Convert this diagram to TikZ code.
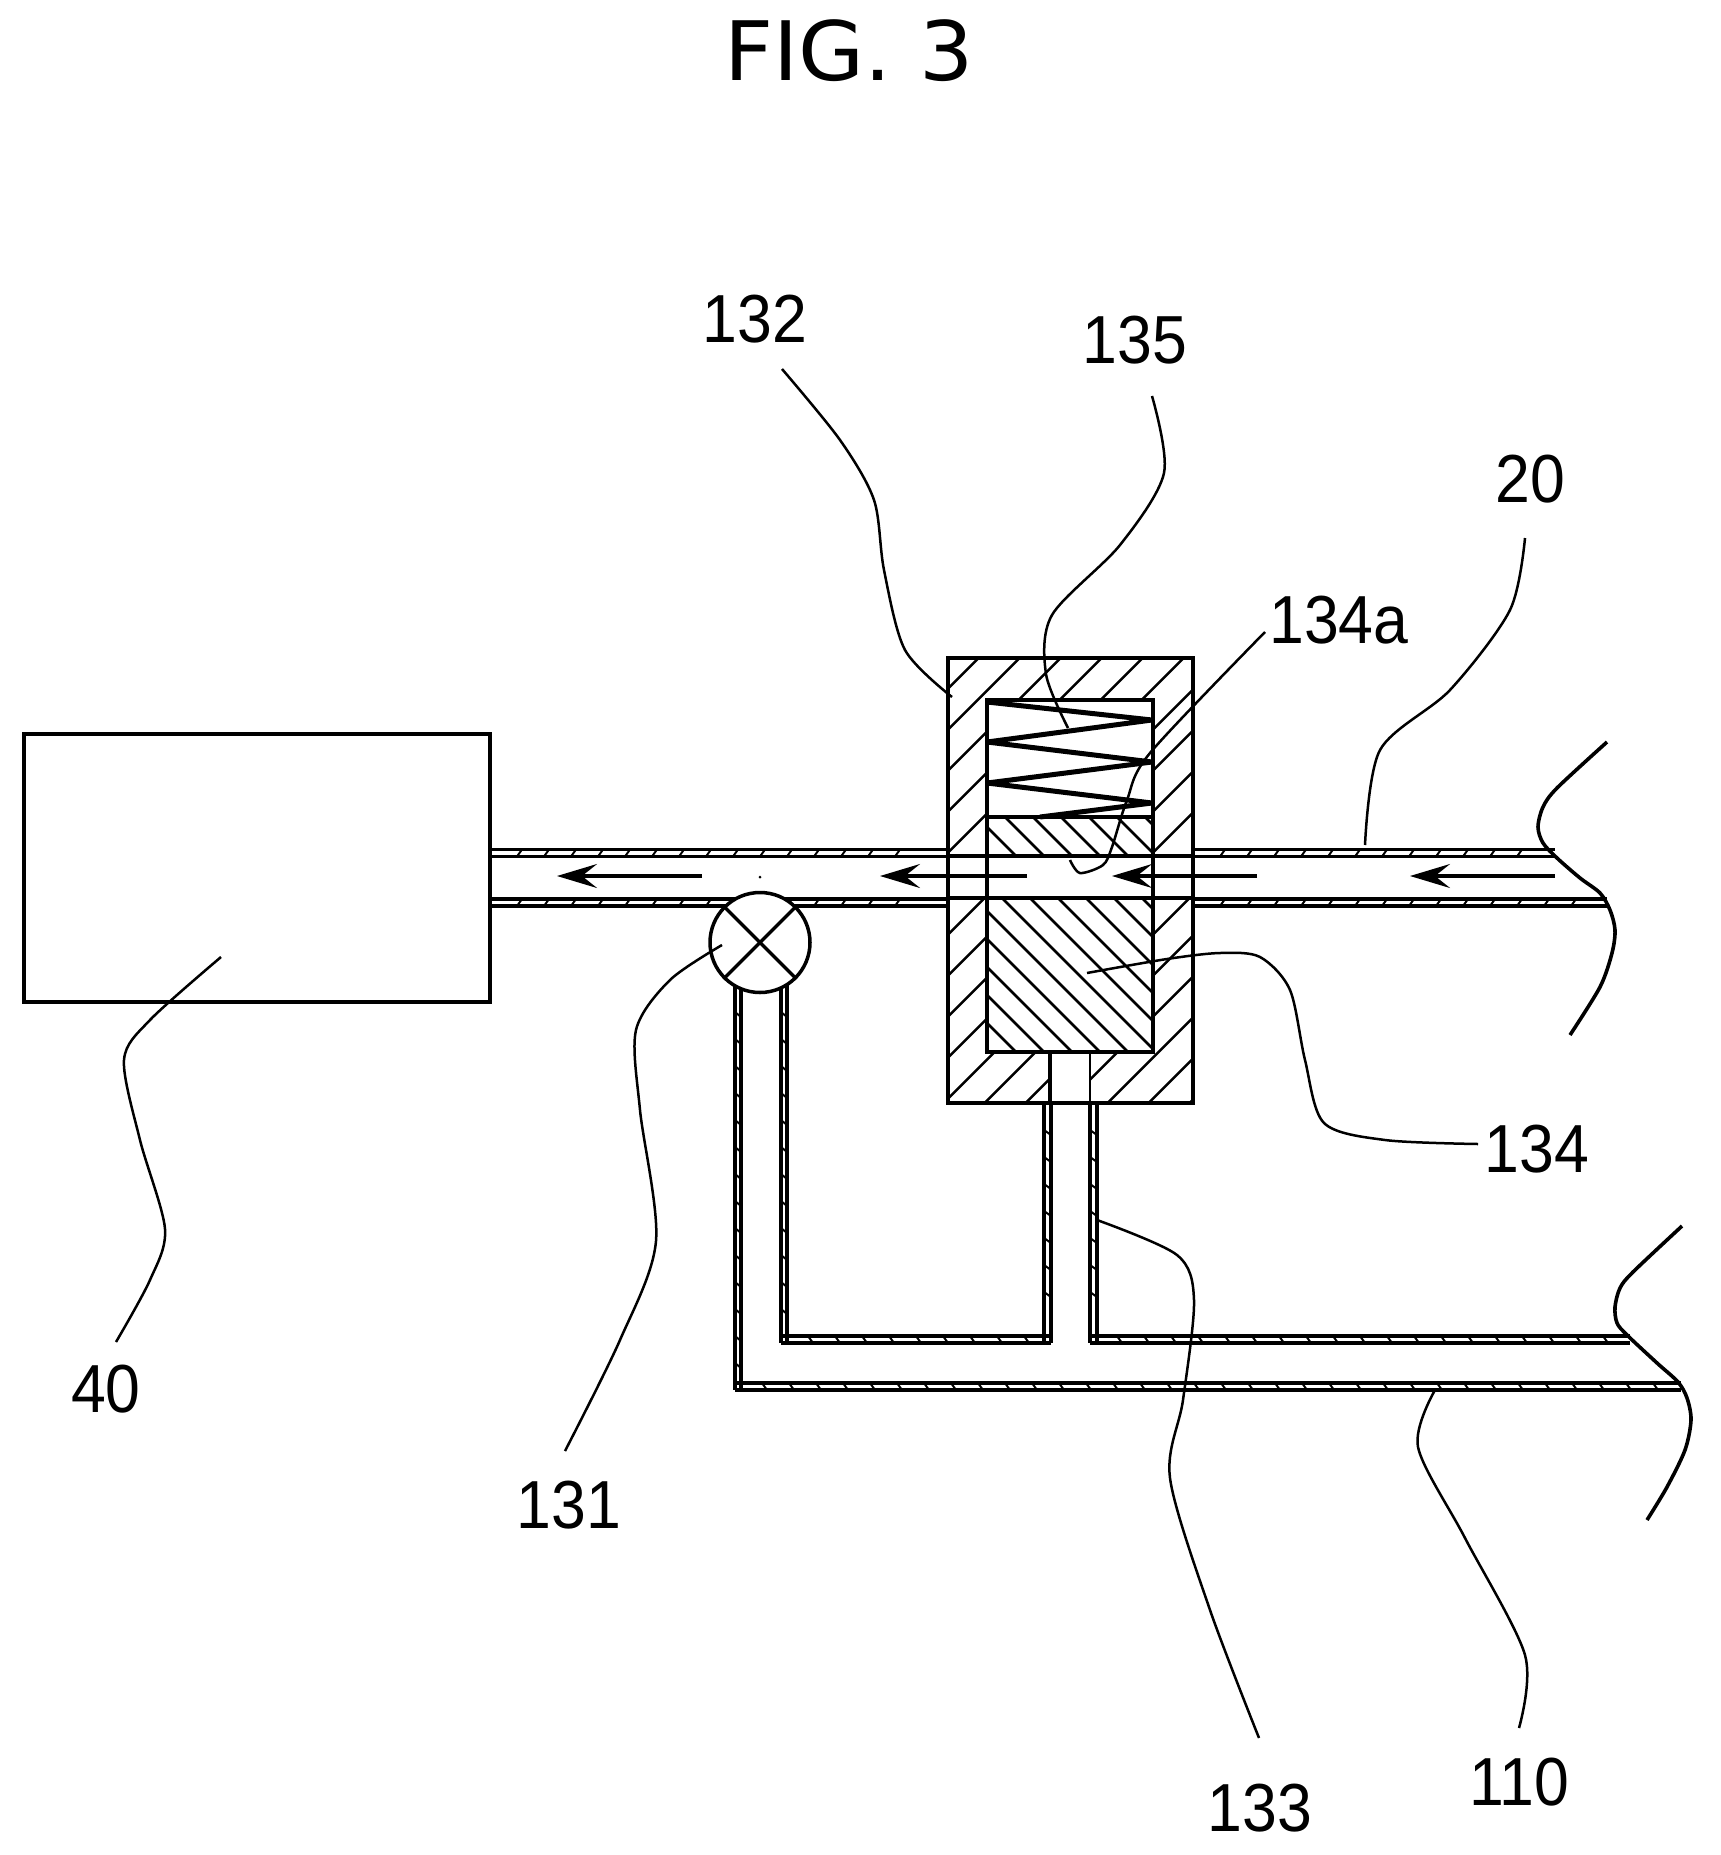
\documentclass[tikz,border=0pt]{standalone}
\usepackage{fontspec}
\setmainfont{DejaVu Sans}
\newfontfamily\reffont{Liberation Sans}
\usetikzlibrary{arrows.meta}
\begin{document}
\begin{tikzpicture}[x=1pt, y=-1pt, line cap=butt,
	title/.style={inner sep=0pt, xscale=1.04, font=\fontsize{82}{82}\selectfont},
	reflabel/.style={inner sep=0pt, xscale=.92, font=\reffont\fontsize{68}{68}\selectfont},
	leader/.style={line width=2.5pt},
	wall/.style={line width=3.6pt},
	tick/.style={line width=2pt},
	hatch/.style={line width=2.6pt},
	flow/.style={line width=3.5pt, -{Stealth[length=40pt, width=24pt, inset=15pt]}},
	partbox/.style={draw, line width=3.5pt, inner sep=0pt}]
	\useasboundingbox (0,0) rectangle (1721,1855);

	\begin{scope}
		\clip (948,658) rectangle (1193,1103);
		\foreach \k in {-2,...,15}
			\draw[hatch] ({1677.6+41*\k-1103},1103) -- ({1677.6+41*\k-658},658);
	\end{scope}
	\fill[white] (987,700) rectangle (1153,1052);
	\fill[white] (948,856) rectangle (1193,898);
	\fill[white] (1050,1052) rectangle (1090,1103);
	\begin{scope}
		\clip (987,817) rectangle (1153,856) (987,898) rectangle (1153,1052);
		\foreach \k in {-4,...,12}
			\draw[hatch] ({20+28*\k+700},700) -- ({20+28*\k+1052},1052);
	\end{scope}

	\foreach \xa/\xb/\ya/\yb in {490/948/856.5/849.5, 1193/1555/856.5/849.5, 490/948/906/899, 1193/1607/906/899, 781/1051/1336/1343, 1090/1630/1336/1343, 735/1681/1383/1390} {
		\draw[wall] (\xa,\ya) -- (\xb,\ya);
		\draw[wall] (\xa,\yb) -- (\xb,\yb);
		\pgfmathtruncatemacro\nticks{(\xb-\xa)/27-1}
		\foreach \n in {1,...,\nticks}
			\draw[tick] ({\xa+27*\n},\ya) -- ({\xa+27*\n+5},\yb);
	}
	\foreach \xa/\xb/\ya/\yb in {735/741/985/1390, 781/787/985/1343, 1044/1051/1103/1343, 1090/1097/1103/1343} {
		\draw[wall] (\xa,\ya) -- (\xa,\yb);
		\draw[wall] (\xb,\ya) -- (\xb,\yb);
		\pgfmathtruncatemacro\nticks{(\yb-\ya)/27-1}
		\foreach \n in {1,...,\nticks}
			\draw[tick] (\xa,{\ya+27*\n}) -- (\xb,{\ya+27*\n+5});
	}

	\draw[line width=3.5pt] (948,658) rectangle (1193,1103);
	\draw[line width=4.5pt] (987,700) rectangle (1153,1052);
	\draw[line width=3.5pt] (948,856) -- (1193,856);
	\draw[line width=3.5pt] (948,898) -- (1193,898);
	\draw[line width=3.5pt] (987,817) -- (1153,817);
	\draw[line width=4pt] (1050,1052) -- (1050,1103);
	\draw[line width=2pt] (1090,1052) -- (1090,1103);
	\draw[line width=5pt, line join=bevel] (987,702) -- (1152,720) -- (987,742) -- (1152,762) -- (987,783) -- (1152,803) -- (1040,817);

	\foreach \xa/\xb in {702/557, 1027/880, 1257/1112, 1555/1410}
		\draw[flow] (\xa,876) -- (\xb,876);

	\node[partbox, minimum width=466pt, minimum height=268pt] (box40) at (257,868) {};
	\node[partbox, fill=white, circle, minimum size=100pt] (valve) at (760,942.5) {};
	\draw[line width=3.5pt] (valve.45) -- (valve.225);
	\draw[line width=3.5pt] (valve.135) -- (valve.315);
	\fill (760,877) circle (1.5);

	\draw[wall] plot[smooth] coordinates {(1607,742) (1557,788) (1543,807) (1538,827) (1543,843) (1557,858) (1580,878) (1600,893) (1610,910) (1615,930) (1612,953) (1600,987) (1570,1035)};
	\draw[wall] plot[smooth] coordinates {(1682,1226) (1633,1272) (1620,1288) (1615,1307) (1617,1323) (1627,1335) (1657,1363) (1678,1382) (1687,1398) (1691,1420) (1685,1450) (1667,1487) (1647,1520)};

	\node[title] (fig) at (849,51) {FIG. 3};
	\node[reflabel] (l132) at (755,319) {132};
	\node[reflabel] (l135) at (1135,340) {135};
	\node[reflabel] (l134a) at (1339,620) {134a};
	\node[reflabel] (l20) at (1530,479) {20};
	\node[reflabel] (l134) at (1537,1149) {134};
	\node[reflabel] (l40) at (106,1389) {40};
	\node[reflabel] (l131) at (569,1505) {131};
	\node[reflabel] (l133) at (1260,1808) {133};
	\node[reflabel] (l110) at (1519,1782) {110};

	\draw[leader] plot[smooth] coordinates {(782,369) (840,440) (874,500) (884,570) (905,650) (952,697)};
	\draw[leader] plot[smooth] coordinates {(1152,396) (1164,473) (1120,545) (1052,615) (1046,674) (1068,728)};
	\draw[leader] plot[smooth] coordinates {(1265,632) (1150,753) (1127,800) (1112,847) (1103,865) (1080,873) (1070,860)};
	\draw[leader] plot[smooth] coordinates {(1525,538) (1510,610) (1450,690) (1380,750) (1365,845)};
	\draw[leader] plot[smooth] coordinates {(1478,1144) (1385,1140) (1324,1123) (1305,1060) (1290,990) (1260,957) (1220,953) (1167,959) (1087,973)};
	\draw[leader] plot[smooth] coordinates {(1097,1220) (1177,1255) (1194,1300) (1183,1400) (1170,1478) (1210,1610) (1259,1738)};
	\draw[leader] plot[smooth] coordinates {(1435,1390) (1418,1447) (1465,1538) (1525,1655) (1519,1728)};
	\draw[leader] plot[smooth] coordinates {(722,945) (670,980) (636,1030) (640,1110) (656,1241) (620,1340) (565,1451)};
	\draw[leader] plot[smooth] coordinates {(221,957) (150,1020) (124,1060) (140,1140) (165,1229) (150,1280) (116,1342)};
\end{tikzpicture}
\end{document}
